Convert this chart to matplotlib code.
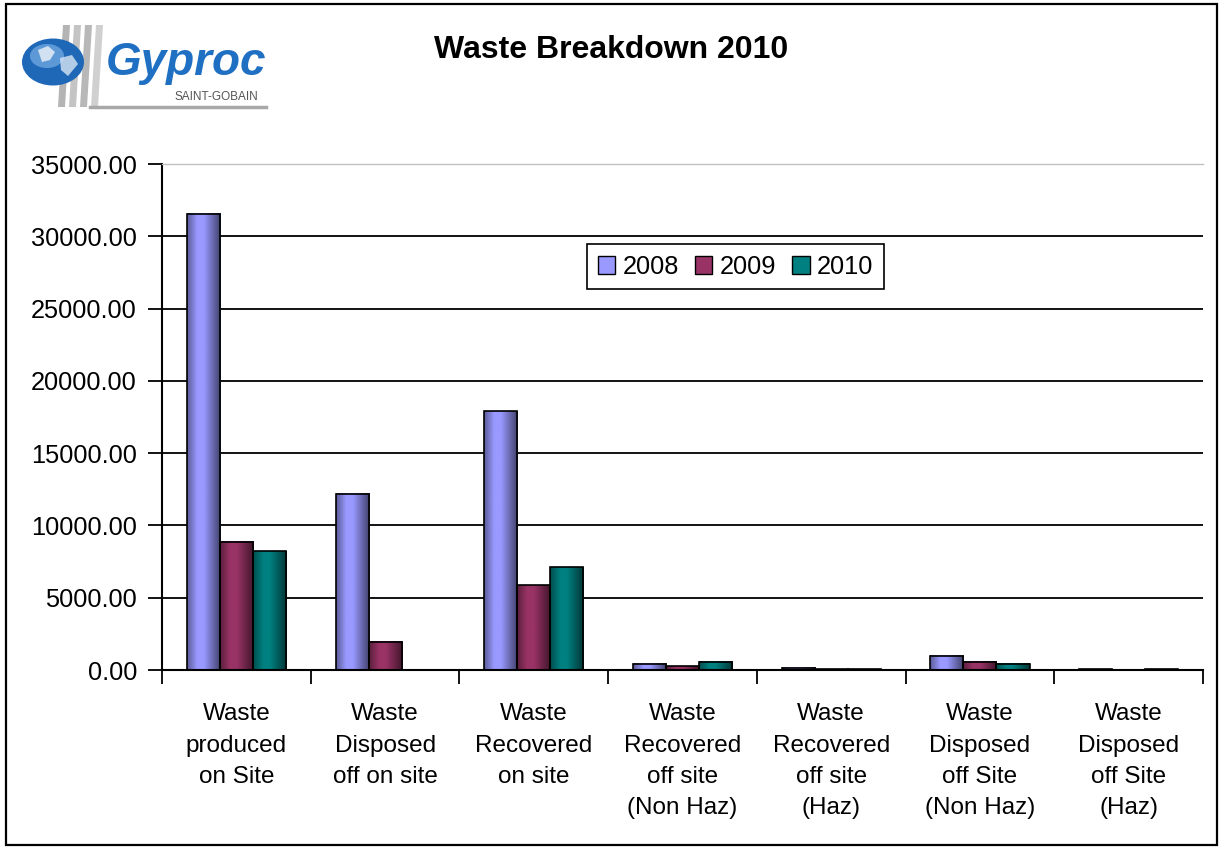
import numpy as np
import matplotlib
matplotlib.use("Agg")
import matplotlib.pyplot as plt
from matplotlib.patches import Rectangle, Ellipse, Polygon, Patch
from matplotlib.colors import to_rgb

plt.rcParams['font.family'] = ['Liberation Sans', 'DejaVu Sans']

# chart data
categories = [
    "Waste\nproduced\non Site",
    "Waste\nDisposed\noff on site",
    "Waste\nRecovered\non site",
    "Waste\nRecovered\noff site\n(Non Haz)",
    "Waste\nRecovered\noff site\n(Haz)",
    "Waste\nDisposed\noff Site\n(Non Haz)",
    "Waste\nDisposed\noff Site\n(Haz)",
]
years = ["2008", "2009", "2010"]
values_2008 = [31550, 12200, 17900, 420, 170, 990, 60]
values_2009 = [8870, 1950, 5850, 250, 50, 570, 0]
values_2010 = [8200, 0, 7100, 570, 50, 430, 60]
y_ticks = [0, 5000, 10000, 15000, 20000, 25000, 30000, 35000]

colors = ["#9999FF", "#993366", "#008080"]

W, H = 1222, 848


def shade(base, n=64):
    """horizontal cylinder-like gradient for one bar"""
    t = np.linspace(0, 1, n)
    f = np.interp(t, [0, 0.3, 0.5, 1], [0.6, 1.0, 1.0, 0.42])
    rgb = np.array(to_rgb(base))
    return (rgb[None, :] * f[:, None])[None, :, :]


fig = plt.figure(figsize=(W / 100, H / 100), dpi=100)

# decorations: border + logo, in pixel coords
deco = fig.add_axes([0, 0, 1, 1], zorder=0)
deco.set_xlim(0, W)
deco.set_ylim(H, 0)
deco.axis("off")
deco.add_patch(Rectangle((6, 4), 1211, 841, fill=False, lw=1.6, ec="black"))

for k, gray in enumerate(["#b4b4b4", "#c4c4c4", "#b8b8b8", "#d0d0d0"]):
    x0 = 58 + k * 11
    deco.add_patch(Polygon([(x0, 107), (x0 + 7, 107), (x0 + 12, 25), (x0 + 5, 25)],
                           closed=True, fc=gray, ec="none"))
deco.plot([90, 266], [107, 107], color="#a8a8a8", lw=2.5)
deco.add_patch(Ellipse((53, 62), 62, 47, fc="#1f68b8", ec="none"))
deco.add_patch(Ellipse((47, 56), 34, 24, fc="#6fa6e0", ec="none", alpha=0.8))
deco.add_patch(Polygon([(38, 50), (48, 46), (55, 52), (50, 60), (42, 62)], closed=True,
                       fc="#e6eef8", ec="none", alpha=0.85))
deco.add_patch(Polygon([(60, 58), (72, 55), (78, 64), (68, 76), (61, 70)], closed=True,
                       fc="#d8e6f5", ec="none", alpha=0.8))
deco.text(106, 75, "Gyproc", fontsize=33, weight="bold", style="italic",
          color="#1f6fc2", ha="left", va="baseline")
deco.text(216, 97, "SAINT-GOBAIN", fontsize=8.5, color="#555555", ha="center", va="center")

fig.text(611 / W, 1 - 50 / H, "Waste Breakdown 2010", ha="center", va="center",
         fontsize=23, weight="bold")

# main plot
ax = fig.add_axes([162 / W, 1 - 670 / H, (1203 - 162) / W, (670 - 164) / H], zorder=1)
ax.patch.set_alpha(0)
x = np.arange(len(categories))
width = 1 / 4.5

for i, (vals, col) in enumerate(zip([values_2008, values_2009, values_2010], colors)):
    bars = ax.bar(x + (i - 1) * width, vals, width, facecolor="none",
                  edgecolor="black", linewidth=1.2, zorder=3)
    for rect, v in zip(bars, vals):
        if v <= 0:
            rect.set_visible(False)
            continue
        x0 = rect.get_x()
        ax.imshow(shade(col), extent=(x0, x0 + width, 0, v), aspect="auto",
                  interpolation="bilinear", zorder=2.5)

ax.set_xlim(-0.5, len(categories) - 0.5)
ax.set_ylim(0, 35000)
ax.set_yticks(y_ticks)
ax.set_yticklabels([f"{v:.2f}" for v in y_ticks], fontsize=18.3)
ax.set_xticks(np.arange(-0.5, len(categories), 1))
ax.set_xticklabels([])
ax.set_xticks(x, minor=True)
ax.set_xticklabels(categories, minor=True, fontsize=17.5)
ax.tick_params(axis="x", which="major", length=10, width=1.3, direction="out")
ax.tick_params(axis="x", which="minor", length=0, pad=24)
ax.tick_params(axis="y", length=10, width=1.3, direction="out", pad=8)

ax.yaxis.grid(True, color="black", lw=1.3)
ax.set_axisbelow(True)
ax.get_ygridlines()[-1].set_visible(False)

ax.spines["right"].set_visible(False)
ax.spines["top"].set_color("#c0c0c0")
ax.spines["top"].set_linewidth(1.0)
ax.spines["left"].set_linewidth(1.5)
ax.spines["bottom"].set_linewidth(1.5)

handles = [Patch(facecolor=c, edgecolor="black", linewidth=1.0) for c in colors]
leg = ax.legend(handles, years, loc="center",
                bbox_to_anchor=(735.5 / W, 1 - 266.5 / H), bbox_transform=fig.transFigure,
                ncol=3, fontsize=18.3, frameon=True, fancybox=False, framealpha=1,
                edgecolor="black", handlelength=0.7, handleheight=0.7,
                handletextpad=0.3, columnspacing=0.6, borderpad=0.4, borderaxespad=0)
leg.get_frame().set_linewidth(1.2)
leg.set_zorder(5)

# tick label objects are created lazily, so set the line spacing after a draw
fig.canvas.draw()
for lbl in ax.get_xticklabels(minor=True):
    lbl.set_linespacing(1.54)

fig.savefig("out.png", dpi=100)
